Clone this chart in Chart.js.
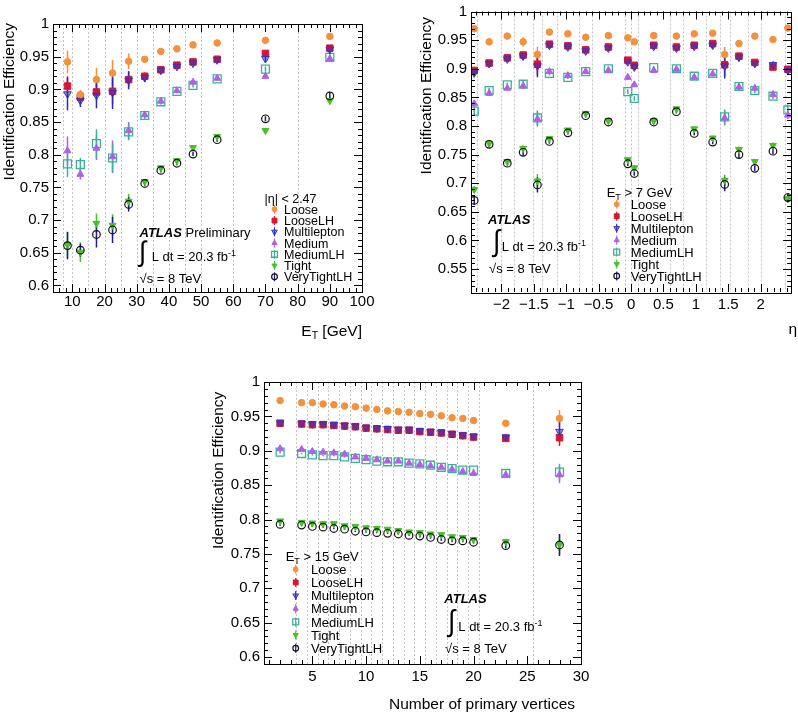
<!DOCTYPE html>
<html lang="en">
<head>
<meta charset="UTF-8">
<title>Electron identification efficiency</title>
<script src="https://cdn.jsdelivr.net/npm/chart.js@4"></script>
<style>
  body { margin: 0; background: #fff; width: 798px; height: 714px; position: relative; overflow: hidden; }
  canvas { position: absolute; }
  #c1 { left: 0; top: 0; }
  #c2 { left: 400px; top: 0; }
  #c3 { left: 200px; top: 355px; }
</style>
</head>
<body>
<canvas id="c1" width="400" height="345"></canvas>
<canvas id="c2" width="398" height="345"></canvas>
<canvas id="c3" width="400" height="359"></canvas>
<script>
const FONT = "'Liberation Sans', Arial, Helvetica, sans-serif";

// ---- efficiency vs ET ----
const etBins = [8.5, 12.5, 17.5, 22.5, 27.5, 32.5, 37.5, 42.5, 47.5, 55, 70, 90];
const etEdges = [7, 10, 15, 20, 25, 30, 35, 40, 45, 50, 60, 80];
const etLoose    = [0.942, 0.892, 0.915, 0.925, 0.943, 0.946, 0.958, 0.962, 0.968, 0.971, 0.975, 0.981];
const etLooseLH  = [0.905, 0.888, 0.896, 0.897, 0.915, 0.920, 0.930, 0.937, 0.942, 0.946, 0.955, 0.963];
const etMulti    = [0.893, 0.883, 0.891, 0.895, 0.914, 0.918, 0.929, 0.935, 0.940, 0.945, 0.947, 0.961];
const etMedium   = [0.806, 0.770, 0.810, 0.797, 0.837, 0.861, 0.882, 0.898, 0.911, 0.917, 0.920, 0.947];
const etMediumLH = [0.786, 0.785, 0.817, 0.795, 0.835, 0.860, 0.881, 0.897, 0.906, 0.916, 0.931, 0.949];
const etTight    = [0.662, 0.651, 0.695, 0.692, 0.729, 0.759, 0.780, 0.791, 0.811, 0.828, 0.837, 0.883];
const etVT       = [0.661, 0.654, 0.678, 0.685, 0.724, 0.756, 0.776, 0.787, 0.801, 0.823, 0.855, 0.890];
const etLooseErr    = [0.017, 0.007, 0.018, 0.020, 0.012, 0.005, 0.003, 0.003, 0.003, 0.003, 0.003, 0.004];
const etLooseLHErr  = [0.015, 0.008, 0.013, 0.020, 0.012, 0.006, 0.004, 0.004, 0.004, 0.004, 0.004, 0.005];
const etMultiErr    = [0.025, 0.010, 0.020, 0.025, 0.014, 0.007, 0.005, 0.004, 0.004, 0.004, 0.005, 0.005];
const etMediumErr   = [0.022, 0.008, 0.018, 0.025, 0.013, 0.005, 0.004, 0.003, 0.003, 0.003, 0.004, 0.005];
const etMediumLHErr = [0.020, 0.010, 0.022, 0.022, 0.013, 0.005, 0.004, 0.003, 0.003, 0.003, 0.004, 0.005];
const etTightErr    = [0.020, 0.015, 0.015, 0.017, 0.011, 0.004, 0.003, 0.003, 0.003, 0.003, 0.004, 0.006];
const etVTErr       = [0.021, 0.010, 0.020, 0.020, 0.011, 0.004, 0.003, 0.003, 0.003, 0.003, 0.004, 0.006];
const etTicks = [10, 20, 30, 40, 50, 60, 70, 80, 90, 100];
const etTickLabels = ['10', '20', '30', '40', '50', '60', '70', '80', '90', '100'];

// ---- efficiency vs eta ----
const etaBins = [-2.42, -2.19, -1.91, -1.665, -1.445, -1.26, -0.975, -0.7, -0.35, -0.05,
                 0.05, 0.35, 0.7, 0.975, 1.26, 1.445, 1.665, 1.91, 2.19, 2.42];
const etaEdges = [-2.37, -2.01, -1.81, -1.52, -1.37, -1.15, -0.8, -0.6, -0.1, 0,
                  0.1, 0.6, 0.8, 1.15, 1.37, 1.52, 1.81, 2.01, 2.37];
const etaLoose    = [0.970, 0.947, 0.957, 0.947, 0.925, 0.964, 0.961, 0.955, 0.958, 0.954, 0.947, 0.958, 0.957, 0.961, 0.962, 0.925, 0.944, 0.957, 0.951, 0.971];
const etaLooseLH  = [0.897, 0.910, 0.919, 0.924, 0.908, 0.943, 0.940, 0.933, 0.938, 0.915, 0.906, 0.941, 0.938, 0.941, 0.944, 0.907, 0.922, 0.911, 0.903, 0.899];
const etaMulti    = [0.893, 0.909, 0.917, 0.922, 0.905, 0.941, 0.938, 0.931, 0.936, 0.912, 0.903, 0.939, 0.936, 0.939, 0.941, 0.905, 0.920, 0.909, 0.907, 0.897];
const etaMedium   = [0.839, 0.857, 0.866, 0.870, 0.812, 0.895, 0.888, 0.895, 0.897, 0.885, 0.872, 0.897, 0.899, 0.885, 0.891, 0.814, 0.868, 0.866, 0.855, 0.819];
const etaMediumLH = [0.826, 0.862, 0.872, 0.873, 0.814, 0.892, 0.885, 0.895, 0.900, 0.860, 0.848, 0.902, 0.900, 0.887, 0.892, 0.816, 0.869, 0.862, 0.852, 0.828];
const etaTight    = [0.689, 0.770, 0.738, 0.761, 0.704, 0.778, 0.793, 0.822, 0.809, 0.741, 0.727, 0.809, 0.830, 0.795, 0.779, 0.705, 0.759, 0.738, 0.766, 0.673];
const etaVT       = [0.670, 0.768, 0.735, 0.754, 0.697, 0.773, 0.788, 0.818, 0.807, 0.734, 0.717, 0.807, 0.825, 0.787, 0.772, 0.698, 0.750, 0.726, 0.756, 0.675];
const etaLooseErr    = [0.005, 0.003, 0.003, 0.008, 0.013, 0.003, 0.003, 0.003, 0.003, 0.003, 0.003, 0.003, 0.003, 0.003, 0.003, 0.013, 0.006, 0.004, 0.004, 0.005];
const etaLooseLHErr  = [0.006, 0.004, 0.004, 0.006, 0.018, 0.004, 0.004, 0.004, 0.004, 0.004, 0.005, 0.004, 0.004, 0.004, 0.004, 0.020, 0.006, 0.005, 0.005, 0.006];
const etaMultiErr    = [0.008, 0.005, 0.005, 0.007, 0.020, 0.005, 0.004, 0.004, 0.004, 0.005, 0.005, 0.004, 0.004, 0.004, 0.005, 0.022, 0.007, 0.005, 0.006, 0.008];
const etaMediumErr   = [0.006, 0.004, 0.004, 0.005, 0.013, 0.004, 0.003, 0.003, 0.003, 0.004, 0.004, 0.003, 0.003, 0.003, 0.004, 0.013, 0.005, 0.004, 0.005, 0.007];
const etaMediumLHErr = [0.008, 0.005, 0.004, 0.006, 0.013, 0.004, 0.003, 0.003, 0.003, 0.004, 0.004, 0.003, 0.003, 0.003, 0.004, 0.013, 0.006, 0.005, 0.005, 0.010];
const etaTightErr    = [0.006, 0.004, 0.004, 0.005, 0.012, 0.004, 0.003, 0.003, 0.003, 0.004, 0.004, 0.003, 0.003, 0.003, 0.004, 0.010, 0.005, 0.004, 0.005, 0.007];
const etaVTErr       = [0.008, 0.005, 0.004, 0.006, 0.013, 0.004, 0.003, 0.003, 0.003, 0.004, 0.004, 0.003, 0.003, 0.003, 0.004, 0.012, 0.006, 0.005, 0.005, 0.008];
const etaTicks = [-2, -1.5, -1, -0.5, 0, 0.5, 1, 1.5, 2];
const etaTickLabels = ['\u22122', '\u22121.5', '\u22121', '\u22120.5', '0', '0.5', '1', '1.5', '2'];

// ---- efficiency vs number of primary vertices ----
const nvBins = [2, 4, 5, 6, 7, 8, 9, 10, 11, 12, 13, 14, 15, 16, 17, 18, 19, 20, 23, 28];
const nvEdges = [3.5, 4.5, 5.5, 6.5, 7.5, 8.5, 9.5, 10.5, 11.5, 12.5, 13.5, 14.5, 15.5,
                 16.5, 17.5, 18.5, 19.5, 20.5, 25.5];
const nvLoose    = [0.973, 0.970, 0.970, 0.968, 0.967, 0.965, 0.964, 0.962, 0.960, 0.958, 0.957, 0.956, 0.954, 0.953, 0.951, 0.948, 0.947, 0.944, 0.940, 0.947];
const nvLooseLH  = [0.940, 0.939, 0.938, 0.938, 0.937, 0.936, 0.935, 0.933, 0.932, 0.931, 0.930, 0.930, 0.928, 0.927, 0.926, 0.924, 0.922, 0.920, 0.918, 0.919];
const nvMulti    = [0.941, 0.940, 0.939, 0.939, 0.938, 0.937, 0.936, 0.934, 0.933, 0.932, 0.931, 0.931, 0.929, 0.928, 0.927, 0.925, 0.923, 0.921, 0.920, 0.928];
const nvMedium   = [0.903, 0.902, 0.899, 0.898, 0.897, 0.895, 0.891, 0.889, 0.887, 0.885, 0.885, 0.882, 0.880, 0.878, 0.876, 0.873, 0.870, 0.867, 0.865, 0.865];
const nvMediumLH = [0.898, 0.896, 0.894, 0.893, 0.893, 0.891, 0.889, 0.887, 0.885, 0.884, 0.884, 0.882, 0.881, 0.879, 0.876, 0.874, 0.872, 0.872, 0.867, 0.869];
const nvTight    = [0.798, 0.796, 0.795, 0.794, 0.794, 0.791, 0.790, 0.788, 0.787, 0.786, 0.784, 0.782, 0.781, 0.779, 0.778, 0.775, 0.774, 0.771, 0.768, 0.764];
const nvVT       = [0.793, 0.792, 0.790, 0.789, 0.787, 0.786, 0.783, 0.782, 0.781, 0.780, 0.779, 0.777, 0.776, 0.774, 0.771, 0.769, 0.769, 0.767, 0.762, 0.763];
const nvLooseErr    = [0.002, 0.001, 0.001, 0.001, 0.001, 0.001, 0.001, 0.001, 0.001, 0.001, 0.001, 0.001, 0.001, 0.001, 0.001, 0.001, 0.002, 0.002, 0.003, 0.012];
const nvLooseLHErr  = [0.002, 0.001, 0.001, 0.001, 0.001, 0.001, 0.001, 0.001, 0.001, 0.001, 0.001, 0.001, 0.001, 0.001, 0.002, 0.002, 0.002, 0.002, 0.003, 0.012];
const nvMultiErr    = [0.002, 0.001, 0.001, 0.001, 0.001, 0.001, 0.001, 0.001, 0.001, 0.001, 0.001, 0.001, 0.001, 0.001, 0.002, 0.002, 0.002, 0.002, 0.004, 0.014];
const nvMediumErr   = [0.002, 0.001, 0.001, 0.001, 0.001, 0.001, 0.001, 0.001, 0.001, 0.001, 0.001, 0.001, 0.001, 0.002, 0.002, 0.002, 0.002, 0.002, 0.004, 0.012];
const nvMediumLHErr = [0.002, 0.001, 0.001, 0.001, 0.001, 0.001, 0.001, 0.001, 0.001, 0.001, 0.001, 0.001, 0.001, 0.002, 0.002, 0.002, 0.002, 0.002, 0.004, 0.012];
const nvTightErr    = [0.002, 0.001, 0.001, 0.001, 0.001, 0.001, 0.001, 0.001, 0.001, 0.001, 0.001, 0.001, 0.002, 0.002, 0.002, 0.002, 0.002, 0.002, 0.004, 0.014];
const nvVTErr       = [0.002, 0.001, 0.001, 0.001, 0.001, 0.001, 0.001, 0.001, 0.001, 0.001, 0.001, 0.001, 0.002, 0.002, 0.002, 0.002, 0.002, 0.002, 0.004, 0.016];
const nvTicks = [5, 10, 15, 20, 25, 30];
const nvTickLabels = ['5', '10', '15', '20', '25', '30'];

// shared y axis ticks
const effTicks = [0.6, 0.65, 0.7, 0.75, 0.8, 0.85, 0.9, 0.95, 1];
const effTickLabels = ['0.6', '0.65', '0.7', '0.75', '0.8', '0.85', '0.9', '0.95', '1'];
const effTicksEta = [0.55, 0.6, 0.65, 0.7, 0.75, 0.8, 0.85, 0.9, 0.95, 1];
const effTickLabelsEta = ['0.55', '0.6', '0.65', '0.7', '0.75', '0.8', '0.85', '0.9', '0.95', '1'];

// marker styles for the seven menus
const STY = {
  loose:    { label: 'Loose', shape: 'circle', r: 3.3, rot: 0, fill: '#f4913c', stroke: '#f4913c', bw: 1, err: '#f4913c', order: 1 },
  looseLH:  { label: 'LooseLH', shape: 'rect', r: 4.6, rot: 0, fill: '#d81432', stroke: '#d81432', bw: 1, err: '#e8102a', order: 3 },
  multi:    { label: 'Multilepton', shape: 'triangle', r: 4.4, rot: 180, fill: 'rgba(50,50,200,0.5)', stroke: '#3535c8', bw: 1, err: '#2a2ab8', order: 2 },
  medium:   { label: 'Medium', shape: 'triangle', r: 4, rot: 0, fill: '#b05fe6', stroke: '#b05fe6', bw: 1, err: '#b060e8', order: 4 },
  mediumLH: { label: 'MediumLH', shape: 'rect', r: 5.6, rot: 0, fill: 'rgba(0,0,0,0)', stroke: '#3cb09c', bw: 1.3, err: '#3cb09c', order: 5 },
  tight:    { label: 'Tight', shape: 'triangle', r: 4, rot: 180, fill: '#45c325', stroke: '#45c325', bw: 1, err: '#45c325', order: 7 },
  vt:       { label: 'VeryTightLH', shape: 'circle', r: 3.8, rot: 0, fill: 'rgba(0,0,0,0)', stroke: '#111', bw: 1.2, err: '#1c1c98', order: 6 }
};
const LEGEND_ORDER = ['loose', 'looseLH', 'multi', 'medium', 'mediumLH', 'tight', 'vt'];

function steps(a, b, s) {
  const out = [];
  for (let i = 0; a + i * s <= b + 1e-9; i++) out.push(+(a + i * s).toFixed(4));
  return out;
}

function shapePath(ctx, s, x, y, r) {
  ctx.beginPath();
  if (s.shape === 'circle') {
    ctx.arc(x, y, r, 0, Math.PI * 2);
  } else if (s.shape === 'rect') {
    const h = r * Math.SQRT1_2;
    ctx.rect(x - h, y - h, 2 * h, 2 * h);
  } else {
    let a = s.rot * Math.PI / 180;
    ctx.moveTo(x + Math.sin(a) * r, y - Math.cos(a) * r);
    a += Math.PI * 2 / 3;
    ctx.lineTo(x + Math.sin(a) * r, y - Math.cos(a) * r);
    a += Math.PI * 2 / 3;
    ctx.lineTo(x + Math.sin(a) * r, y - Math.cos(a) * r);
    ctx.closePath();
  }
}

function legendMark(ctx, s, x, y) {
  ctx.save();
  ctx.strokeStyle = s.err;
  ctx.lineWidth = 1.2;
  ctx.beginPath(); ctx.moveTo(x, y - 4.5); ctx.lineTo(x, y + 4.5); ctx.stroke();
  shapePath(ctx, s, x, y, s.r * 0.75);
  ctx.fillStyle = s.fill; ctx.fill();
  ctx.strokeStyle = s.stroke; ctx.lineWidth = s.bw; ctx.stroke();
  ctx.restore();
}

function rich(ctx, x, y, parts, align) {
  const f = p => (p.st || '') + ' ' + p.sz + 'px ' + FONT;
  let w = 0;
  parts.forEach(p => { ctx.font = f(p); w += ctx.measureText(p.t).width; });
  let cx = align === 'right' ? x - w : x;
  parts.forEach(p => {
    ctx.font = f(p);
    ctx.fillText(p.t, cx, y + (p.dy || 0));
    cx += ctx.measureText(p.t).width;
  });
}

function integral(ctx, x, top, bottom) {
  ctx.save();
  ctx.font = '20px ' + FONT;
  const m = ctx.measureText('\u222B');
  const h = m.actualBoundingBoxAscent + m.actualBoundingBoxDescent;
  const s = (bottom - top) / h;
  ctx.translate(x, top);
  ctx.scale(Math.min(s, 1.3), s);
  ctx.fillText('\u222B', 0, m.actualBoundingBoxAscent);
  ctx.restore();
}

function yTitle(ctx, x, top) {
  ctx.save();
  ctx.translate(x, top);
  ctx.rotate(-Math.PI / 2);
  ctx.textAlign = 'right';
  ctx.textBaseline = 'middle';
  ctx.font = '15.5px ' + FONT;
  ctx.fillText('Identification Efficiency', 0, 0);
  ctx.restore();
}

function legendBlock(ctx, head, mx, tx, y0, dy, sz) {
  rich(ctx, mx - 10, y0 - dy + 4.5, head);
  LEGEND_ORDER.forEach((k, i) => {
    const yc = y0 + i * dy;
    legendMark(ctx, STY[k], mx, yc);
    ctx.font = sz + 'px ' + FONT;
    ctx.fillText(STY[k].label, tx, yc + 4.6);
  });
}

function atlasBlock(ctx, x, yAtlas, prelim, ix, iTop, iBot, lx, ly, sx, sy) {
  const parts = [{ t: 'ATLAS', sz: 13, st: 'italic bold' }];
  if (prelim) parts.push({ t: ' Preliminary', sz: 13 });
  rich(ctx, x, yAtlas, parts);
  integral(ctx, ix, iTop, iBot);
  rich(ctx, lx, ly, [{ t: 'L dt = 20.3 fb', sz: 13 }, { t: '-1', sz: 9, dy: -5 }]);
  rich(ctx, sx, sy, [{ t: '\u221As = 8 TeV', sz: 13 }]);
}

// per panel annotation (canvas coordinates)
const ANNOT = {
  c1(ctx) {
    yTitle(ctx, 10, 23);
    rich(ctx, 362, 335.5, [{ t: 'E', sz: 15.5 }, { t: 'T', sz: 10.5, dy: 3.5 }, { t: ' [GeV]', sz: 15.5 }], 'right');
    legendBlock(ctx, [{ t: '|\u03B7| < 2.47', sz: 12.5 }], 274.5, 284, 209.3, 11.25, 12.5);
    atlasBlock(ctx, 139.5, 237.4, true, 139, 240, 268, 151.7, 261.4, 139.5, 283);
  },
  c2(ctx) {
    yTitle(ctx, 26.7, 17);
    rich(ctx, 397, 334, [{ t: '\u03B7', sz: 15.5 }], 'right');
    legendBlock(ctx, [{ t: 'E', sz: 13 }, { t: 'T', sz: 9, dy: 3 }, { t: ' > 7 GeV', sz: 13 }], 216.7, 230.7, 204.3, 11.95, 13);
    atlasBlock(ctx, 88, 224, false, 93, 228, 258, 101.7, 251.4, 89, 273);
  },
  c3(ctx) {
    yTitle(ctx, 18.5, 36.7);
    rich(ctx, 375, 353.8, [{ t: 'Number of primary vertices', sz: 15.5 }], 'right');
    legendBlock(ctx, [{ t: 'E', sz: 13 }, { t: 'T', sz: 9, dy: 3 }, { t: ' > 15 GeV', sz: 13 }], 95.7, 111, 214.3, 13.15, 13);
    atlasBlock(ctx, 244.3, 248, false, 248, 253, 283, 258.3, 275.7, 245, 298);
  }
};

const PANEL = {
  c1: { edges: etEdges, xMajor: etTicks, xMinor: steps(4, 100, 2), yMajor: effTicks, yMinor: steps(0.59, 1, 0.01) },
  c2: { edges: etaEdges, xMajor: etaTicks, xMinor: steps(-2.4, 2.4, 0.1), yMajor: effTicksEta, yMinor: steps(0.51, 1, 0.01) },
  c3: { edges: nvEdges, xMajor: nvTicks, xMinor: steps(1, 30, 1), yMajor: effTicks, yMinor: steps(0.59, 1, 0.01) }
};

const atlasPlugin = {
  id: 'atlasStyle',
  beforeDatasetsDraw(chart) {
    const cfg = PANEL[chart.canvas.id];
    const { ctx, chartArea: a, scales: { x, y } } = chart;
    ctx.save();
    ctx.beginPath(); ctx.rect(a.left, a.top, a.right - a.left, a.bottom - a.top); ctx.clip();
    ctx.strokeStyle = '#c4c4c4'; ctx.lineWidth = 1; ctx.setLineDash([2, 2]);
    cfg.edges.forEach(v => {
      const px = Math.round(x.getPixelForValue(v)) + 0.5;
      ctx.beginPath(); ctx.moveTo(px, a.top); ctx.lineTo(px, a.bottom); ctx.stroke();
    });
    ctx.setLineDash([]);
    chart.data.datasets.forEach((ds, i) => {
      const meta = chart.getDatasetMeta(i);
      ctx.strokeStyle = ds.errColor; ctx.lineWidth = 1.5;
      meta.data.forEach((pt, j) => {
        const v = ds.data[j].y, e = ds.errors[j];
        ctx.beginPath();
        ctx.moveTo(pt.x, y.getPixelForValue(v - e));
        ctx.lineTo(pt.x, y.getPixelForValue(v + e));
        ctx.stroke();
      });
    });
    ctx.restore();
  },
  afterDatasetsDraw(chart) {
    const cfg = PANEL[chart.canvas.id];
    const { ctx, chartArea: a, scales: { x, y } } = chart;
    ctx.save();
    ctx.strokeStyle = '#000'; ctx.lineWidth = 1;
    ctx.beginPath();
    const xt = (list, len) => list.forEach(v => {
      const px = Math.round(x.getPixelForValue(v)) + 0.5;
      if (px < a.left || px > a.right) return;
      ctx.moveTo(px, a.bottom); ctx.lineTo(px, a.bottom - len);
      ctx.moveTo(px, a.top); ctx.lineTo(px, a.top + len);
    });
    const yt = (list, len) => list.forEach(v => {
      const py = Math.round(y.getPixelForValue(v)) + 0.5;
      if (py < a.top || py > a.bottom) return;
      ctx.moveTo(a.left, py); ctx.lineTo(a.left + len, py);
      ctx.moveTo(a.right, py); ctx.lineTo(a.right - len, py);
    });
    xt(cfg.xMinor, 4); xt(cfg.xMajor, 8);
    yt(cfg.yMinor, 4); yt(cfg.yMajor, 8);
    ctx.stroke();
    ctx.strokeRect(Math.round(a.left) + 0.5, Math.round(a.top) + 0.5,
                   Math.round(a.right - a.left), Math.round(a.bottom - a.top));
    ctx.restore();
  },
  afterDraw(chart) {
    const ctx = chart.ctx;
    ctx.save();
    ctx.fillStyle = '#000';
    ctx.textBaseline = 'alphabetic';
    ANNOT[chart.canvas.id](ctx);
    ctx.restore();
  }
};

function dataset(xs, ys, errs, s) {
  return {
    label: s.label,
    data: xs.map((v, i) => ({ x: v, y: ys[i] })),
    errors: errs,
    errColor: s.err,
    pointStyle: s.shape,
    pointRadius: s.r,
    pointRotation: s.rot,
    pointBorderWidth: s.bw,
    pointBackgroundColor: s.fill,
    pointBorderColor: s.stroke,
    showLine: false,
    order: s.order
  };
}

function makeChart(id, c) {
  const tickFont = { family: FONT, size: 15, lineHeight: 1 };
  return new Chart(document.getElementById(id), {
    type: 'scatter',
    data: { datasets: c.series.map(s => dataset(c.xs, s[1], s[2], s[0])) },
    options: {
      responsive: false,
      animation: false,
      devicePixelRatio: 1,
      layout: { padding: c.pad },
      plugins: { legend: { display: false }, tooltip: { enabled: false } },
      scales: {
        x: {
          type: 'linear', min: c.xMin, max: c.xMax, bounds: 'data',
          grid: { display: false, drawTicks: false }, border: { display: false },
          afterBuildTicks: s => { s.ticks = c.xTicks.map(v => ({ value: v })); },
          afterFit: s => { s.height = c.xh; },
          ticks: { autoSkip: false, maxRotation: 0, padding: c.xpad, color: '#000', font: tickFont,
                   callback: (v, i) => c.xLabels[i] }
        },
        y: {
          type: 'linear', min: c.yMin, max: c.yMax, bounds: 'data',
          grid: { display: false, drawTicks: false }, border: { display: false },
          afterBuildTicks: s => { s.ticks = c.yTicks.map(v => ({ value: v })); },
          afterFit: s => { s.width = c.yw; },
          ticks: { autoSkip: false, padding: 4, color: '#000', font: tickFont,
                   callback: (v, i) => c.yLabels[i] }
        }
      }
    },
    plugins: [atlasPlugin]
  });
}

makeChart('c1', {
  xs: etBins,
  series: [[STY.loose, etLoose, etLooseErr], [STY.looseLH, etLooseLH, etLooseLHErr], [STY.multi, etMulti, etMultiErr],
           [STY.medium, etMedium, etMediumErr], [STY.mediumLH, etMediumLH, etMediumLHErr],
           [STY.tight, etTight, etTightErr], [STY.vt, etVT, etVTErr]],
  pad: { left: 0, top: 24, right: 38, bottom: 0 }, xh: 53, yw: 53, xpad: 2,
  xMin: 4, xMax: 100, yMin: 0.59, yMax: 1,
  xTicks: etTicks, xLabels: etTickLabels, yTicks: effTicks, yLabels: effTickLabels
});

makeChart('c2', {
  xs: etaBins,
  series: [[STY.loose, etaLoose, etaLooseErr], [STY.looseLH, etaLooseLH, etaLooseLHErr], [STY.multi, etaMulti, etaMultiErr],
           [STY.medium, etaMedium, etaMediumErr], [STY.mediumLH, etaMediumLH, etaMediumLHErr],
           [STY.tight, etaTight, etaTightErr], [STY.vt, etaVT, etaVTErr]],
  pad: { left: 0, top: 8, right: 5, bottom: 0 }, xh: 53, yw: 71, xpad: 5,
  xMin: -2.47, xMax: 2.47, yMin: 0.51, yMax: 1,
  xTicks: etaTicks, xLabels: etaTickLabels, yTicks: effTicksEta, yLabels: effTickLabelsEta
});

makeChart('c3', {
  xs: nvBins,
  series: [[STY.loose, nvLoose, nvLooseErr], [STY.looseLH, nvLooseLH, nvLooseLHErr], [STY.multi, nvMulti, nvMultiErr],
           [STY.medium, nvMedium, nvMediumErr], [STY.mediumLH, nvMediumLH, nvMediumLHErr],
           [STY.tight, nvTight, nvTightErr], [STY.vt, nvVT, nvVTErr]],
  pad: { left: 0, top: 27, right: 19, bottom: 0 }, xh: 50, yw: 64, xpad: 5,
  xMin: 0.5, xMax: 30, yMin: 0.59, yMax: 1,
  xTicks: nvTicks, xLabels: nvTickLabels, yTicks: effTicks, yLabels: effTickLabels
});
</script>
</body>
</html>
